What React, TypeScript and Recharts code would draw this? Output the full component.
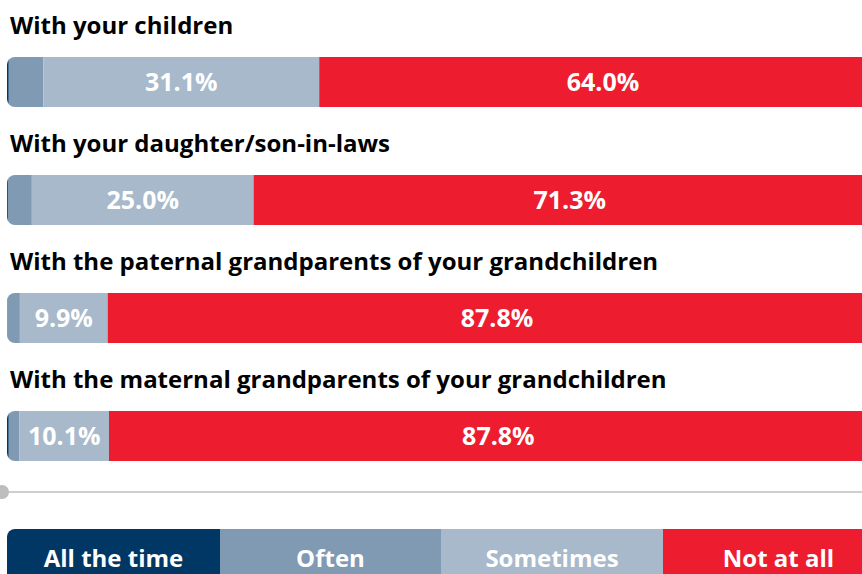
import React from "react";
import { BarChart, Bar, XAxis, YAxis, LabelList, Legend } from "recharts";

const categories = [
  "With your children",
  "With your daughter/son-in-laws",
  "With the paternal grandparents of your grandchildren",
  "With the maternal grandparents of your grandchildren",
];
const allTheTime = [0.2, 0.1, 0.05, 0.2];
const often = [3.9, 2.7, 1.4, 1.2];
const sometimes = [31.1, 25.0, 9.9, 10.1];
const notAtAll = [64.0, 71.3, 87.8, 87.8];

const seriesNames = ["All the time", "Often", "Sometimes", "Not at all"];
const colors = ["#003764", "#7f9ab2", "#a7b9ca", "#ed1c2e"];

const data = categories.map((name, i) => ({
  name,
  allTheTime: allTheTime[i],
  often: often[i],
  sometimes: sometimes[i],
  notAtAll: notAtAll[i],
}));

const FONT = "'Open Sans', sans-serif";
const FS = 24;
const FS_VAL = 25;
const CHART_W = 900;
const CHART_H = 590;
const MARGIN = { top: 23, right: 6, left: 7, bottom: 95 };
const PLOT_W = CHART_W - MARGIN.left - MARGIN.right;
const LEGEND_ITEM_W = [213, 221, 222, 231];

const makeShape = (key: string) => (props: any) => {
  const { x, y, width, height, fill, index } = props;
  if (!width || width <= 0) return <g />;
  const id = `clip-${key}-${index}`;
  return (
    <g>
      <defs>
        <clipPath id={id}>
          <rect x={MARGIN.left} y={y} width={PLOT_W} height={height} rx={8} ry={8} />
        </clipPath>
      </defs>
      <rect x={x} y={y} width={width} height={height} fill={fill} clipPath={`url(#${id})`} />
    </g>
  );
};

const TitleLabel = (props: any) => {
  const { x, y, value } = props;
  return (
    <text
      x={Number(x) + 3}
      y={Number(y) - 23}
      textAnchor="start"
      fill="#000"
      fontFamily={FONT}
      fontWeight={700}
      fontSize={FS}
    >
      {value}
    </text>
  );
};

const fmt = (v: any) => `${Number(v).toFixed(1)}%`;

const LegendContent = () => {
  return (
    <div
      style={{
        width: PLOT_W,
        height: 56,
        display: "flex",
        borderTopLeftRadius: 8,
        overflow: "hidden",
      }}
    >
      {seriesNames.map((n, i) => (
        <div
          key={n}
          style={{
            width: LEGEND_ITEM_W[i],
            flex: "none",
            background: colors[i],
            color: "#fff",
            fontFamily: FONT,
            fontWeight: 700,
            fontSize: FS,
            display: "flex",
            alignItems: "center",
            justifyContent: "center",
          }}
        >
          {n}
        </div>
      ))}
    </div>
  );
};

export default function App() {
  return (
    <div
      style={{
        position: "absolute",
        left: 0,
        top: 0,
        width: 862,
        height: 574,
        overflow: "hidden",
        background: "#fff",
      }}
    >
      <BarChart
        width={CHART_W}
        height={CHART_H}
        data={data}
        layout="vertical"
        margin={MARGIN}
        barSize={50}
        barCategoryGap={0}
      >
        <XAxis type="number" domain={[0, 100]} hide />
        <YAxis type="category" dataKey="name" hide />
        <Legend
          layout="vertical"
          verticalAlign="middle"
          align="center"
          content={<LegendContent />}
          wrapperStyle={{ top: 529, left: MARGIN.left, width: PLOT_W, height: 56 }}
        />
        <Bar dataKey="allTheTime" name={seriesNames[0]} stackId="a" fill={colors[0]} shape={makeShape("a")} isAnimationActive={false}>
          <LabelList dataKey="name" content={<TitleLabel />} />
        </Bar>
        <Bar dataKey="often" name={seriesNames[1]} stackId="a" fill={colors[1]} shape={makeShape("o")} isAnimationActive={false} />
        <Bar dataKey="sometimes" name={seriesNames[2]} stackId="a" fill={colors[2]} shape={makeShape("s")} isAnimationActive={false}>
          <LabelList dataKey="sometimes" position="center" formatter={fmt} fill="#fff" fontFamily={FONT} fontWeight={700} fontSize={FS_VAL} />
        </Bar>
        <Bar dataKey="notAtAll" name={seriesNames[3]} stackId="a" fill={colors[3]} shape={makeShape("n")} isAnimationActive={false}>
          <LabelList dataKey="notAtAll" position="center" formatter={fmt} fill="#fff" fontFamily={FONT} fontWeight={700} fontSize={FS_VAL} />
        </Bar>
      </BarChart>
      <div
        style={{
          position: "absolute",
          left: 0,
          top: 491,
          width: 862,
          height: 2,
          background: "#cfcfcf",
        }}
      />
      <div
        style={{
          position: "absolute",
          left: -5,
          top: 485,
          width: 14,
          height: 14,
          borderRadius: 7,
          background: "#bdbdbd",
        }}
      />
    </div>
  );
}
